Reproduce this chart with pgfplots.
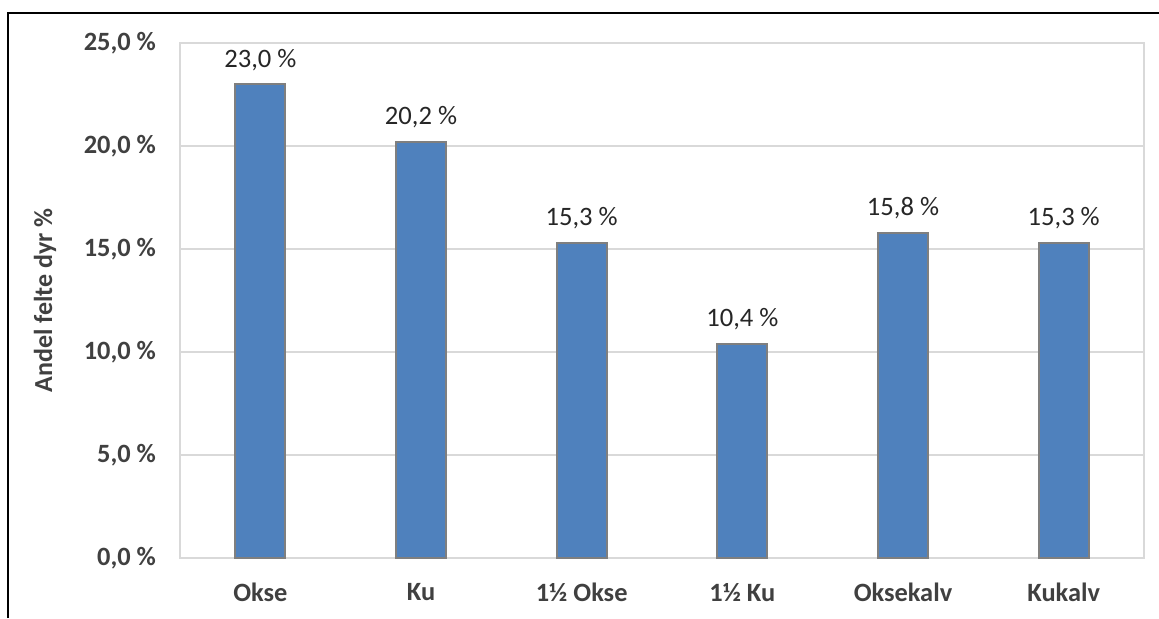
\documentclass[border=0pt]{standalone}
\usepackage{pgfplots}
\pgfplotsset{compat=1.18}
\usepackage{fontspec}
\setmainfont{Carlito}

\definecolor{barblue}{HTML}{4F81BD}
\definecolor{bargray}{HTML}{7F7F7F}
\definecolor{gridgray}{HTML}{D9D9D9}
\definecolor{labelgray}{HTML}{404040}

\begin{document}
\begin{tikzpicture}
% 1 px of the reference = 0.5pt
\useasboundingbox (0,0) rectangle (579.5pt,309pt);
\begin{axis}[
  at={(90pt,30pt)}, anchor=south west,
  scale only axis, width=482pt, height=257.5pt,
  ybar, bar width=25pt,
  xmin=-0.5, xmax=5.5, ymin=0, ymax=25,
  xtick=data,
  xticklabels={Okse, Ku, 1½ Okse, 1½ Ku, Oksekalv, Kukalv},
  ytick={0,5,10,15,20,25},
  major tick length=0pt,
  axis line style={gridgray, line width=1pt},
  ymajorgrids=true, grid style={gridgray, line width=1pt},
  /pgf/number format/.cd, fixed, fixed zerofill, precision=1, use comma, assume math mode=true,
  /pgfplots/.cd,
  yticklabel={\pgfmathprintnumber{\tick}\ \%},
  ticklabel style={font=\fontsize{13.2}{15}\selectfont\bfseries, text=labelgray},
  yticklabel style={xshift=-8.5pt},
  xticklabel style={yshift=-9pt},
  ylabel={Andel felte dyr \%},
  ylabel style={at={(axis description cs:-0.14,0.5)}, anchor=center,
    font=\fontsize{13}{15}\selectfont\bfseries, text=labelgray},
  nodes near coords={\pgfmathprintnumber{\pgfplotspointmeta}\ \%},
  nodes near coords style={anchor=base, yshift=8.5pt,
    font=\fontsize{13.3}{15}\selectfont, text=black!85},
]
\addplot[fill=barblue, draw=bargray, line width=1pt] coordinates {
  (0,23.0) (1,20.2) (2,15.3) (3,10.4) (4,15.8) (5,15.3)
};
\end{axis}
\draw[line width=1.1pt] (4pt,0) -- (4pt,302.5pt) -- (579.5pt,302.5pt);
\end{tikzpicture}
\end{document}
